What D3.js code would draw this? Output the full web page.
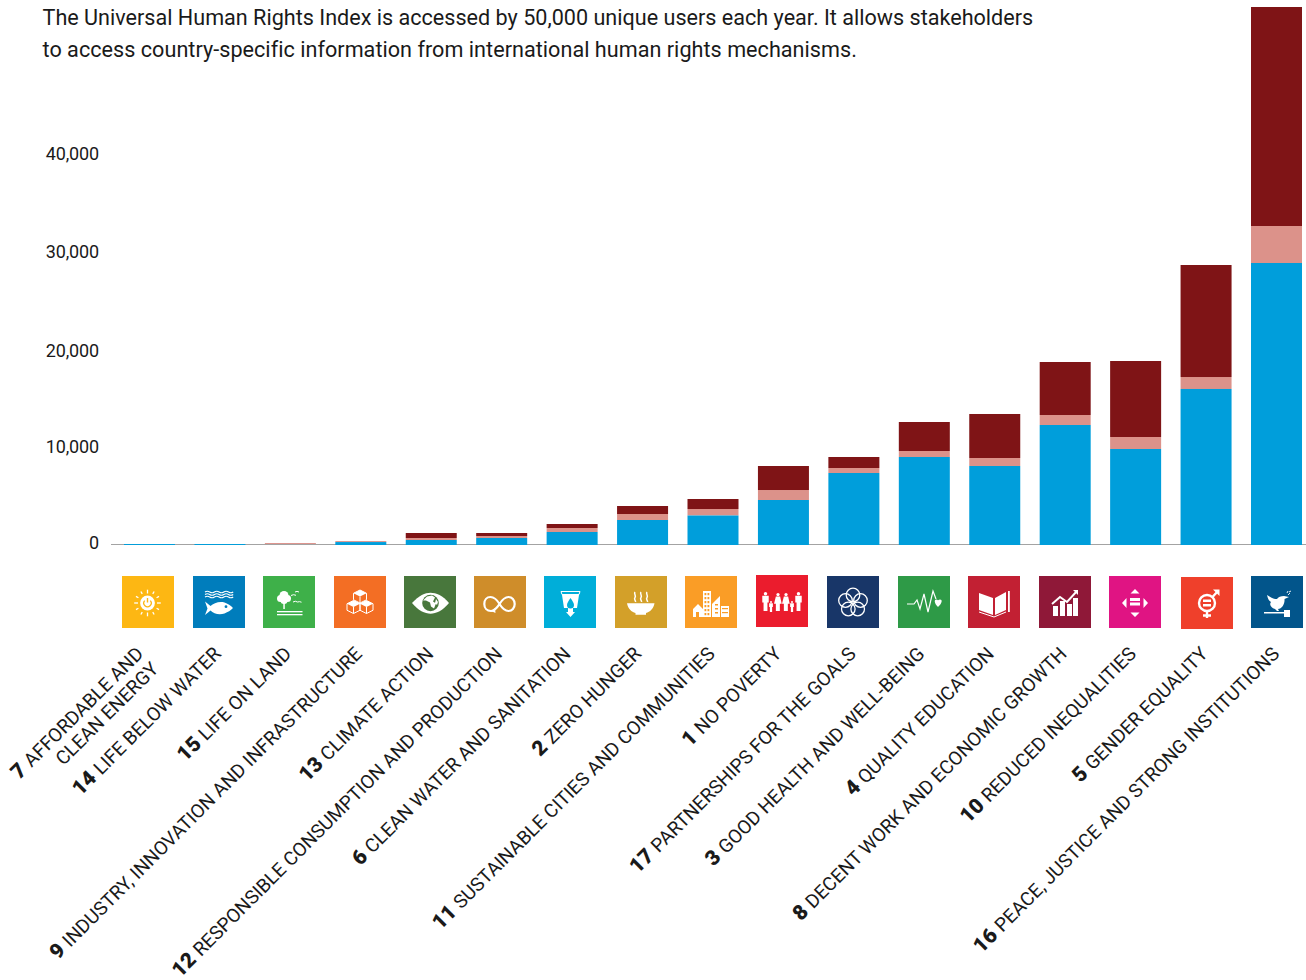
<!DOCTYPE html>
<html><head><meta charset="utf-8">
<script src="https://cdn.jsdelivr.net/npm/d3@7"></script>
<style>html,body{margin:0;padding:0;background:#fff}svg{display:block}text{font-family:Roboto,sans-serif}</style>
</head><body><svg id="c" width="1306" height="980"></svg>
<script>
const introLines = ["The Universal Human Rights Index is accessed by 50,000 unique users each year. It allows stakeholders","to access country-specific information from international human rights mechanisms."];
const goals =  [7,14,15,9,13,12,6,2,11,1,17,3,4,8,10,5,16];
const names = [["AFFORDABLE AND","CLEAN ENERGY"],["LIFE BELOW WATER"],["LIFE ON LAND"],["INDUSTRY, INNOVATION AND INFRASTRUCTURE"],["CLIMATE ACTION"],["RESPONSIBLE CONSUMPTION AND PRODUCTION"],["CLEAN WATER AND SANITATION"],["ZERO HUNGER"],["SUSTAINABLE CITIES AND COMMUNITIES"],["NO POVERTY"],["PARTNERSHIPS FOR THE GOALS"],["GOOD HEALTH AND WELL-BEING"],["QUALITY EDUCATION"],["DECENT WORK AND ECONOMIC GROWTH"],["REDUCED INEQUALITIES"],["GENDER EQUALITY"],["PEACE, JUSTICE AND STRONG INSTITUTIONS"]];
const blue = [100,100,0,300,510,714,1327,2551,3010,4592,7347,8980,8061,12245,9796,15921,28776];
const pink = [0,0,200,100,204,204,408,612,663,1020,510,612,817,1020,1225,1220,3775];
const dark = [0,0,0,0,510,306,408,816,1020,2449,1123,2959,4490,5408,7754,11430,22347];
const iconColors = ["#fdb713","#007dbc","#3eb049","#f36e24","#48773c","#cf8d2a","#00aed9","#d3a029","#fa9d26","#eb1c2d","#183668","#2e9a47","#c22033","#8f1838","#e01483","#ef402b","#02558b"];
const yTicks = [0,10000,20000,30000,40000];
const seriesColors = ["#009edb","#dc928a","#7f1416"];

const svg = d3.select("#c");
const W=1306;
const y = d3.scaleLinear().domain([0,10000]).range([545,447]);
const x = d3.scaleBand().domain(goals).range([124,1302]).paddingInner(0.276).paddingOuter(0);
const xi = d3.scaleBand().domain(goals).range([122,1303]).paddingInner(0.263).paddingOuter(0);

// intro
svg.append("g").selectAll("text").data(introLines).join("text")
  .attr("x",42.5).attr("y",(d,i)=>25+i*32).attr("font-size",21.6).attr("letter-spacing",(d,i)=>i?0.03:0).attr("fill","#1a1a1a").text(d=>d);

// axis
const tickNudge = {0:-3,10000:-1,20000:1,30000:0,40000:0};
const ax = d3.axisLeft(y).tickValues(yTicks).tickFormat(d3.format(",")).tickSize(0).tickPadding(0);
const gy = svg.append("g").attr("transform","translate(99,0)").call(ax);
gy.select(".domain").remove();
gy.selectAll("text").attr("font-size",18).attr("letter-spacing",-0.15).attr("fill","#1a1a1a")
  .attr("transform",d=>`translate(0,${tickNudge[d]+0.5})`);

// stacked bars: pale and dark layers sit under the baseline, blue over it
const rows = goals.map((g,i)=>({g,blue:blue[i],pink:pink[i],dark:dark[i]}));
const stack = d3.stack().keys(["blue","pink","dark"])(rows);
const drawSeries = (s,i)=> svg.append("g").attr("fill",seriesColors[i])
  .selectAll("rect").data(s).join("rect")
  .attr("x",d=>x(d.data.g)).attr("width",x.bandwidth())
  .attr("y",d=>y(d[1])).attr("height",d=>y(d[0])-y(d[1]));
drawSeries(stack[1],1); drawSeries(stack[2],2);
svg.append("line").attr("x1",111).attr("x2",W).attr("y1",544.5).attr("y2",544.5).attr("stroke","#a3a3a3").attr("stroke-width",1);
drawSeries(stack[0],0);

// icons
const nudgeY = {1:-1,5:1};
const nudgeX = {12:-1,6:-1,2:-1,11:-1,1:-1,17:-1,4:-1,10:-1,5:1};
const iconG = svg.append("g").selectAll("g").data(goals).join("g")
  .attr("transform",d=>`translate(${Math.round(xi(d))+(nudgeX[d]||0)},${576+(nudgeY[d]||0)})`);
iconG.append("rect").attr("width",52).attr("height",52).attr("fill",(d,i)=>iconColors[i]);
const W_="#fff";
function stroke(s,w){return s.attr("fill","none").attr("stroke",W_).attr("stroke-width",w||1);}
function person(g,cx,top,h,skirt){
  const hw=h*0.17;
  g.append("circle").attr("cx",cx).attr("cy",top+h*0.09).attr("r",h*0.09).attr("fill",W_);
  if(skirt) g.append("path").attr("d",`M${cx-hw*.7} ${top+h*.2}h${hw*1.4}l${hw*.5} ${h*.4}h${-hw*.6}v${h*.4}h${-hw*1.3}v${-h*.4}h${-hw*.6}z`).attr("fill",W_);
  else g.append("path").attr("d",`M${cx-hw} ${top+h*.2}h${hw*2}v${h*.35}h${-hw*.4}v${h*.45}h${-hw*1.2}v${-h*.45}h${-hw*.4}z`).attr("fill",W_);
}
const draw = {
 7(g){
  const cx=25.5,cy=27;
  d3.range(12).forEach(i=>{const a=i*Math.PI/6,r0=i%3==0?9.5:10.5,r1=13.3;
    g.append("line").attr("x1",cx+Math.cos(a)*r0).attr("y1",cy+Math.sin(a)*r0).attr("x2",cx+Math.cos(a)*r1).attr("y2",cy+Math.sin(a)*r1).attr("stroke",W_).attr("stroke-width",1.3);});
  g.append("circle").attr("cx",cx).attr("cy",cy).attr("r",7.4).attr("fill",W_);
  stroke(g.append("path").attr("d",`M${cx-2.8} ${cy-2.4}a3.7 3.7 0 1 0 5.6 0`),1.3).attr("stroke",iconColors[0]);
  g.append("line").attr("x1",cx).attr("x2",cx).attr("y1",cy-5).attr("y2",cy-.5).attr("stroke",iconColors[0]).attr("stroke-width",1.4);
 },
 14(g){
  [16,18.5,21].forEach(yy=>stroke(g.append("path").attr("d",`M12 ${yy}q2.3 -1.6 4.7 0t4.7 0t4.7 0t4.7 0t4.700 0t4.700 0`),1.1));
  g.append("path").attr("fill",W_).attr("d","M12 25.500l5.500 4.500c3-3 9-5 14-3.500c3 1 6.500 3 8.500 5.500c-2.500 2.500-5 4-8.500 5.500c-5 1.500-11 .500-14-3l-5.500 4.500l2.500-6.500z");
  g.append("circle").attr("cx",33).attr("cy",30.700).attr("r",1.400).attr("fill",iconColors[1]);
 },
 15(g){
  [[21,19.500,4.500],[17.500,22.500,3.500],[24.500,22.500,3.500],[21,24.500,3.500]].forEach(c=>g.append("circle").attr("cx",c[0]).attr("cy",c[1]).attr("r",c[2]).attr("fill",W_));
  g.append("rect").attr("x",20.300).attr("y",26).attr("width",1.500).attr("height",7).attr("fill",W_);
  g.append("rect").attr("x",14).attr("y",35).attr("width",25.500).attr("height",1.300).attr("fill",W_);
  g.append("rect").attr("x",14).attr("y",38).attr("width",25.500).attr("height",1.300).attr("fill",W_);
  stroke(g.append("path").attr("d","M28 19.500q2.500-1.500 5-.2M32 16q2-1.200 4 0M30 26q2.500-1.500 4.500 0M34.500 26q2-.8 4 .2"),1);
 },
 9(g){
  const cube=(cx,cy,s)=>{
   g.append("path").attr("d",`M${cx} ${cy-s}L${cx+s} ${cy-s/2}L${cx} ${cy}L${cx-s} ${cy-s/2}Z`).attr("fill",W_);
   stroke(g.append("path").attr("d",`M${cx} ${cy-s}L${cx+s} ${cy-s/2}V${cy+s/2}L${cx} ${cy+s}L${cx-s} ${cy+s/2}V${cy-s/2}ZM${cx} ${cy}V${cy+s}`),1);};
  cube(26,20.500,6.500);cube(19.500,31,6.500);cube(32.500,31,6.500);
 },
 13(g){
  g.append("path").attr("fill",W_).attr("d","M8 27C15 19.500 21 16.700 26.500 16.700C32 16.700 39 19.500 45 27C39 34.500 32 37.700 26.500 37.700C21 37.700 14 34.500 8 27Z");
  g.append("circle").attr("cx",26.500).attr("cy",27).attr("r",8.300).attr("fill",iconColors[4]);
  g.append("path").attr("fill",W_).attr("d","M23 20.500l5-1l3 2l-2 4l3 2l-2 5l-3-2l-1-4l-4-2l-3 0zM32 23l2 3l-1 3l-2-2z");
 },
 12(g){
  stroke(g.append("path").attr("d","M25.500 28C22.500 23 19.500 21 16.500 21C12.800 21 10.300 24 10.300 28C10.300 32 13 35 17 35C21 35 23.500 31 25.500 28C28 24 31 21 34.500 21C38 21 40.700 24 40.700 28C40.700 32 38 35 34.500 35C31 35 28 32 25.500 28"),2.200);
  g.append("path").attr("fill",W_).attr("d","M21 32l.5 5l-4.500-2z");
 },
 6(g){
  stroke(g.append("path").attr("d","M17 15.500H36L35 18.500H18Z"),1);
  g.append("path").attr("fill",W_).attr("d","M18 19H35L33 32H29V36H31L26.500 41L22 36H24V32H20Z");
  g.append("path").attr("fill",iconColors[6]).attr("d","M26.500 22c2 3 3.500 5 3.500 7a3.500 3.500 0 0 1-7 0c0-2 1.500-4 3.500-7z");
 },
 2(g){
  g.append("path").attr("fill",W_).attr("d","M12 27.300H39.500C38.500 33 35 36 31 37V38.700H20.500V37C16.500 36 13 33 12 27.300Z");
  stroke(g.append("path").attr("d","M20 16c-1.500 2 1.500 3.500 0 5.500s1 3 .5 4.500M26 16c-1.500 2 1.500 3.500 0 5.500s1 3 .5 4.500M32 16c-1.500 2 1.500 3.500 0 5.500s1 3 .5 4.500"),1.500);
 },
 11(g){
  g.append("path").attr("fill",W_).attr("d","M8 33L13 28L18 33V41H14V36H11V41H8Z");
  g.append("rect").attr("x",18).attr("y",15).attr("width",8).attr("height",26).attr("fill",W_);
  g.append("path").attr("fill",W_).attr("d","M27 41V28L35 20V41Z");
  g.append("rect").attr("x",36).attr("y",30).attr("width",8).attr("height",11).attr("fill",W_);
  const ws=g.append("g").attr("fill",iconColors[8]);
  d3.range(6).forEach(r=>d3.range(2).forEach(c=>ws.append("rect").attr("x",19.500+c*3).attr("y",17+r*4).attr("width",1.800).attr("height",2.200)));
  d3.range(3).forEach(r=>ws.append("rect").attr("x",30).attr("y",28+r*4).attr("width",3).attr("height",1.500));
  d3.range(2).forEach(r=>ws.append("rect").attr("x",37).attr("y",32+r*4).attr("width",6).attr("height",1.200));
 },
 1(g){
  person(g,9.500,17,19);person(g,15,26,11);person(g,22,18,18,true);person(g,30,18,18,true);person(g,36,26,11);person(g,42.500,17,19);
 },
 17(g){
  [[26,19],[33.500,24.500],[30.700,33],[21.300,33],[18.500,24.500]].forEach(p=>stroke(g.append("circle").attr("cx",p[0]).attr("cy",p[1]).attr("r",6.800),1.300));
 },
 3(g){
  stroke(g.append("path").attr("d","M9 28H16L19 24L22 33L26 18L30 36L35 15L38 23"),1.200);
  g.append("path").attr("fill",W_).attr("d","M40 31C36 27 36 23.500 38.500 23.500C39.500 23.500 40 24.500 40 24.500C40 24.500 40.700 23.500 42 23.500C44.500 23.500 44.500 27 40 31Z");
 },
 4(g){
  g.append("path").attr("fill",W_).attr("d","M11 17L25 22V39L11 34ZM27 22L38 16V34L27 39Z");
  stroke(g.append("path").attr("d","M11 36L26 41L38 36"),1);
  g.append("rect").attr("x",40).attr("y",15).attr("width",1.800).attr("height",21).attr("fill",W_);
 },
 8(g){
  [[14,30,4],[21,25,4],[28,28,4],[34,22,4]].forEach(d=>g.append("rect").attr("x",d[0]).attr("y",d[1]).attr("width",d[2]+1).attr("height",40-d[1]).attr("fill",W_));
  stroke(g.append("path").attr("d","M13 28L21 21L28 26L38 15"),2);
  g.append("path").attr("fill",W_).attr("d","M34 14L39 14L39 19Z");
 },
 10(g){
  g.append("rect").attr("x",21).attr("y",22).attr("width",10).attr("height",3).attr("fill",W_);
  g.append("rect").attr("x",21).attr("y",26.500).attr("width",10).attr("height",3).attr("fill",W_);
  g.append("path").attr("fill",W_).attr("d","M26 13L30.500 17.500H21.500ZM26 41L30.500 36.500H21.500ZM13 27L17.500 22V32ZM39 27L34.500 22V32Z");
 },
 5(g){
  stroke(g.append("circle").attr("cx",26).attr("cy",26).attr("r",8),2.400);
  stroke(g.append("path").attr("d","M26 34V41M22 38.500H30M31.500 20L37 14"),2.400);
  g.append("path").attr("fill",W_).attr("d","M32 12.500H38.500V19Z");
  g.append("rect").attr("x",22).attr("y",22.500).attr("width",8).attr("height",2.500).attr("fill",W_);
  g.append("rect").attr("x",22).attr("y",27).attr("width",8).attr("height",2.500).attr("fill",W_);
 },
 16(g){
  g.append("path").attr("fill",W_).attr("d","M16 19C19 21 22 23 26 23C27 21 30 20 33 20L38 21L33.500 23C34 28 31 33 27 33L28 35H26L24 33C20 32 18 28 20 26C18 25 17 23 16 19Z");
  stroke(g.append("path").attr("d","M37 19l2-2M38 16l2-1M36 17l1-2"),.9);
  g.append("rect").attr("x",13).attr("y",36).attr("width",24).attr("height",1.500).attr("fill",W_);
  g.append("rect").attr("x",33).attr("y",34).attr("width",6).attr("height",7).attr("fill",W_);
 }
};
iconG.each(function(d){draw[d](d3.select(this));});

// rotated labels
const labelNudge = {7:-7,13:1,6:-3,2:-3,1:-4,3:-2,4:-3,10:-2,12:-1,8:-1,5:-1};
const lab = svg.append("g").selectAll("g").data(goals).join("g")
  .attr("transform",d=>`translate(${xi(d)+xi.bandwidth()/2+3.5+(labelNudge[d]||0)},655) rotate(-45)`);
lab.each(function(d,i){
  const n=names[i], g=d3.select(this);
  n.forEach((line,j)=>{
    const t=g.append("text").attr("text-anchor","end").attr("font-size",19.1).attr("fill","#1a1a1a")
      .attr("y",j*21.500);
    if(j===0){t.append("tspan").attr("font-weight",900).attr("font-size",21).text(d+" ");}
    t.append("tspan").text(line);
  });
});
</script></body></html>
